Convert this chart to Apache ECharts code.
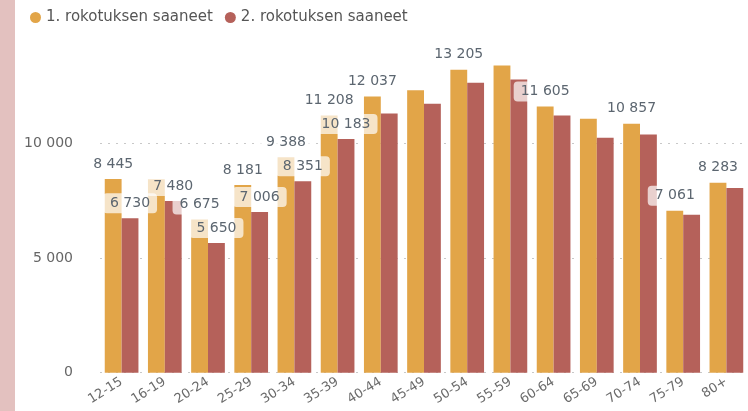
<!DOCTYPE html>
<html>
<head>
<meta charset="utf-8">
<script src="https://cdn.jsdelivr.net/npm/echarts@6/dist/echarts.min.js"></script>
<style>
  html, body { margin: 0; padding: 0; background: #fff; }
  #chart { width: 748px; height: 411px; }
</style>
</head>
<body>
<div id="chart"></div>
<script>
// Age groups
const categories = ['12-15', '16-19', '20-24', '25-29', '30-34', '35-39', '40-44', '45-49',
  '50-54', '55-59', '60-64', '65-69', '70-74', '75-79', '80+']

// 1st and 2nd dose counts
const dose1 = [8445, 8430, 6675, 8181, 9388, 11208, 12037, 12310, 13205, 13390, 11605, 11070, 10857, 7061, 8283]
const dose2 = [6730, 7480, 5650, 7006, 8351, 10183, 11300, 11720, 12640, 12780, 11210, 10240, 10380, 6890, 8050]

// Which bars carry a visible value label
const dose1Labelled = [0, 2, 3, 4, 5, 6, 8, 10, 12, 13, 14]
const dose2Labelled = [0, 1, 2, 3, 4, 5]

const yTicks = [0, 5000, 10000, 15000]

const FONT = 'DejaVu Sans'
const colors = ['#e2a548', '#b5615a']

function fmt(v) {
  return String(v).replace(/\B(?=(\d{3})+(?!\d))/g, ' ')
}

function withLabels(values, shown) {
  return values.map((v, i) => ({ value: v, label: { show: shown.includes(i) } }))
}

const barLabel = {
  position: 'top',
  distance: 5,
  color: '#5c6670',
  fontFamily: FONT,
  fontSize: 14,
  backgroundColor: 'rgba(255,255,255,0.7)',
  borderRadius: 4,
  padding: [3, 7],
  formatter: (p) => fmt(p.value),
}

const chart = echarts.init(document.getElementById('chart'))

chart.setOption({
  animation: false,
  color: colors,
  textStyle: { fontFamily: FONT },
  graphic: [
    {
      // pink strip on the left edge
      type: 'rect',
      left: 0,
      top: 0,
      shape: { width: 15, height: 411 },
      style: { fill: '#e3c1bf' },
    },
  ],
  legend: {
    left: 25,
    top: 5,
    icon: 'circle',
    itemWidth: 11,
    itemHeight: 11,
    itemGap: 12,
    textStyle: { color: '#555', fontSize: 15, fontFamily: FONT },
    data: ['1. rokotuksen saaneet', '2. rokotuksen saaneet'],
  },
  grid: { left: 100, top: 28.6, width: 650, bottom: 38.3 },
  xAxis: {
    type: 'category',
    data: categories,
    axisLine: { show: false },
    axisTick: { show: false },
    axisLabel: {
      color: '#6a6a6a',
      fontSize: 13,
      fontFamily: FONT,
      rotate: 32,
      margin: 8,
      interval: 0,
    },
  },
  yAxis: {
    type: 'value',
    min: yTicks[0],
    max: yTicks[yTicks.length - 1],
    interval: 5000,
    axisLine: { show: false },
    axisTick: { show: false },
    axisLabel: {
      color: '#666',
      fontSize: 14,
      fontFamily: FONT,
      margin: 27,
      formatter: (v) => (v === 15000 ? '' : fmt(v)),
    },
    splitLine: {
      lineStyle: {
        type: [2, 6],
        width: 1,
        color: ['#c8c8c8', '#c8c8c8', '#c8c8c8', 'rgba(0,0,0,0)'],
      },
    },
  },
  series: [
    {
      name: '1. rokotuksen saaneet',
      type: 'bar',
      barGap: '0%',
      barCategoryGap: '22%',
      data: withLabels(dose1, dose1Labelled),
      label: barLabel,
    },
    {
      name: '2. rokotuksen saaneet',
      type: 'bar',
      barGap: '0%',
      barCategoryGap: '22%',
      data: withLabels(dose2, dose2Labelled),
      label: barLabel,
    },
  ],
})
</script>
</body>
</html>
